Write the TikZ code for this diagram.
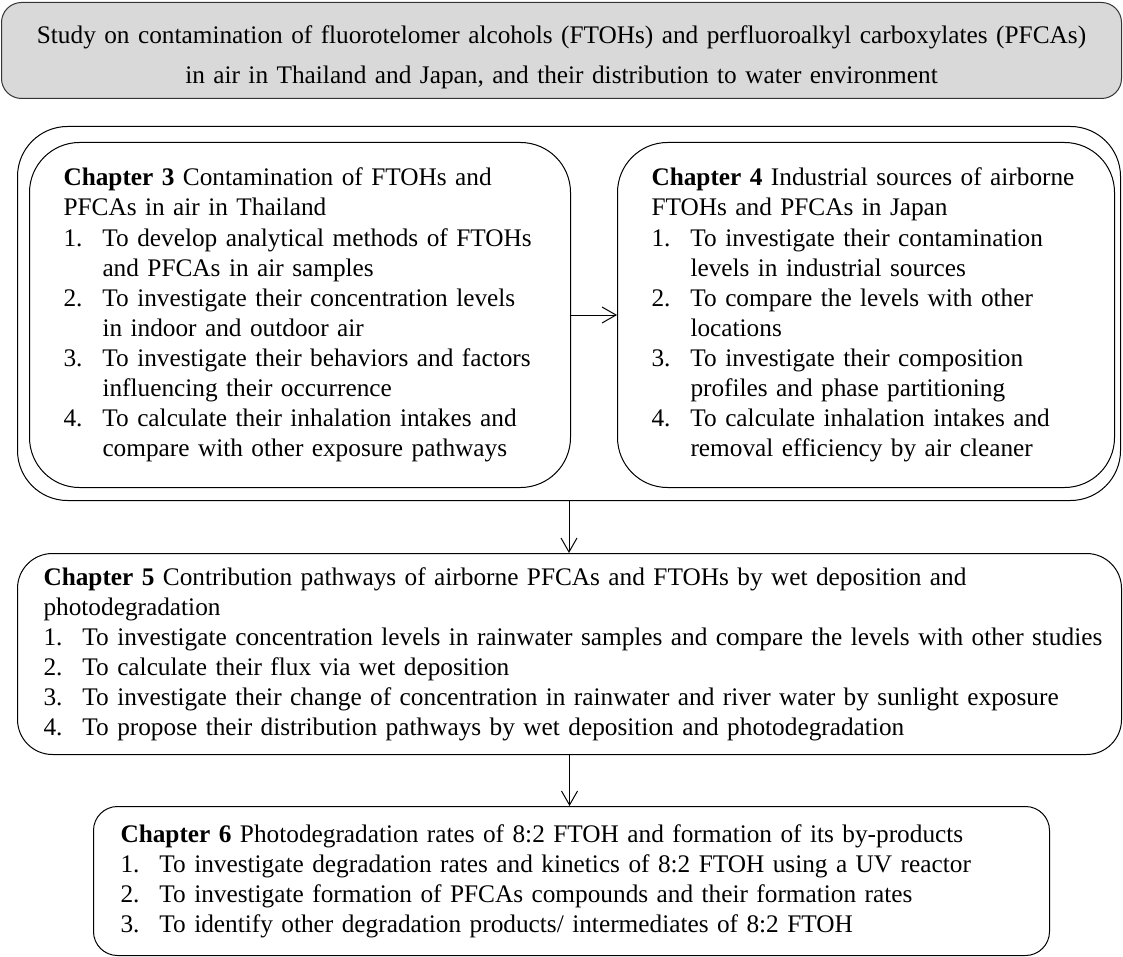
\documentclass[tikz,border=0pt]{standalone}
\usepackage{fontspec}
\setmainfont{Liberation Serif}
\usetikzlibrary{positioning,arrows.meta}

\begin{document}
\begin{tikzpicture}[
				x=1pt, y=-1pt,
				>={Straight Barb[length=14pt,width=16pt]},
				every node/.style={font=\fontsize{25.3}{30}\selectfont},
				chbox/.style={rectangle, draw, line width=1pt, rounded corners=50pt, anchor=north west, inner ysep=0pt, align=left},
				link/.style={->, line width=1pt}
				]
				\useasboundingbox (0,0) rectangle (1123,957);
				% title
				\node[chbox, draw=black!80, fill=black!15, rounded corners=20pt, minimum width=1120pt, minimum height=96pt, text width=1120pt, inner xsep=0pt, align=center, font=\fontsize{25.3}{40}\selectfont] (title) at (1,2)
					{\rule{0pt}{32pt}Study on contamination of fluorotelomer alcohols (FTOHs) and perfluoroalkyl carboxylates (PFCAs)\\
					in air in Thailand and Japan, and their distribution to water environment};
				% air studies
				\node[chbox, minimum width=1103pt, minimum height=374pt] (outer) at (17,126) {};
				\node[chbox, minimum width=541pt, minimum height=345pt, text width=473pt, inner xsep=34pt] (ch3) at (29,142)
					{\noindent\begin{tabular}{@{}p{39pt}@{}l@{}}
					\multicolumn{2}{@{}l@{}}{\textbf{Chapter 3} Contamination of FTOHs and}\\
					\multicolumn{2}{@{}l@{}}{PFCAs in air in Thailand}\\
					1. & To develop analytical methods of FTOHs\\
					   & and PFCAs in air samples\\
					2. & To investigate their concentration levels\\
					   & in indoor and outdoor air\\
					3. & To investigate their behaviors and factors\\
					   & influencing their occurrence\\
					4. & To calculate their inhalation intakes and\\
					   & compare with other exposure pathways
					\end{tabular}};
				\node[chbox, minimum width=497pt, minimum height=345pt, text width=429pt, inner xsep=34pt] (ch4) at (617,142)
					{\noindent\begin{tabular}{@{}p{39pt}@{}l@{}}
					\multicolumn{2}{@{}l@{}}{\textbf{Chapter 4} Industrial sources of airborne}\\
					\multicolumn{2}{@{}l@{}}{FTOHs and PFCAs in Japan}\\
					1. & To investigate their contamination\\
					   & levels in industrial sources\\
					2. & To compare the levels with other\\
					   & locations\\
					3. & To investigate their composition\\
					   & profiles and phase partitioning\\
					4. & To calculate inhalation intakes and\\
					   & removal efficiency by air cleaner
					\end{tabular}};
				% water pathways
				\node[chbox, rounded corners=35pt, minimum width=1104pt, minimum height=201pt, text width=1052pt, inner xsep=26pt] (ch5) at (17,553)
					{\noindent\begin{tabular}{@{}p{39pt}@{}l@{}}
					\multicolumn{2}{@{}l@{}}{\textbf{Chapter 5} Contribution pathways of airborne PFCAs and FTOHs by wet deposition and}\\
					\multicolumn{2}{@{}l@{}}{photodegradation}\\
					1. & To investigate concentration levels in rainwater samples and compare the levels with other studies\\
					2. & To calculate their flux via wet deposition\\
					3. & To investigate their change of concentration in rainwater and river water by sunlight exposure\\
					4. & To propose their distribution pathways by wet deposition and photodegradation
					\end{tabular}};
				\node[chbox, rounded corners=24pt, minimum width=956pt, minimum height=149pt, text width=902pt, inner xsep=27pt] (ch6) at (93,806)
					{\noindent\begin{tabular}{@{}p{39pt}@{}l@{}}
					\multicolumn{2}{@{}l@{}}{\textbf{Chapter 6} Photodegradation rates of 8:2 FTOH and formation of its by-products}\\
					1. & To investigate degradation rates and kinetics of 8:2 FTOH using a UV reactor\\
					2. & To investigate formation of PFCAs compounds and their formation rates\\
					3. & To identify other degradation products/ intermediates of 8:2 FTOH
					\end{tabular}};
				
				\draw[link] (ch3.east) -- (ch4.west);
				\draw[link] (outer.south) -- (outer.south |- ch5.north);
				\draw[link] (ch5.south) -- (ch5.south |- ch6.north);
			\end{tikzpicture}
\end{document}
